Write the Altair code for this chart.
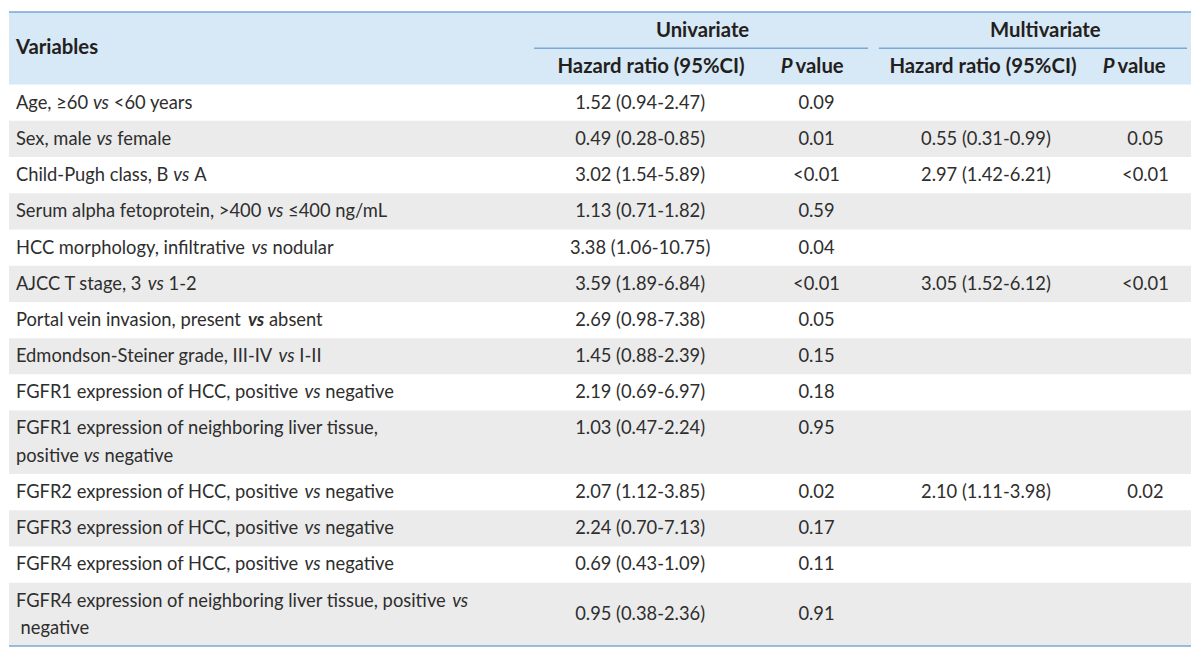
import glob, os, re, struct
import altair as alt
import pandas as pd

# ---------------- data ----------------
variables = [
    "Age, \u226560 _vs_ <60 years",
    "Sex, male _vs_ female",
    "Child-Pugh class, B _vs_ A",
    "Serum alpha fetoprotein, >400 _vs_ \u2264400 ng/mL",
    "HCC morphology, infiltrative _vs_ nodular",
    "AJCC T stage, 3 _vs_ 1-2",
    "Portal vein invasion, present __vs__ absent",
    "Edmondson-Steiner grade, III-IV _vs_ I-II",
    "FGFR1 expression of HCC, positive _vs_ negative",
    "FGFR1 expression of neighboring liver tissue,\npositive _vs_ negative",
    "FGFR2 expression of HCC, positive _vs_ negative",
    "FGFR3 expression of HCC, positive _vs_ negative",
    "FGFR4 expression of HCC, positive _vs_ negative",
    "FGFR4 expression of neighboring liver tissue, positive _vs_\n negative",
]
uni_hr = ["1.52 (0.94-2.47)", "0.49 (0.28-0.85)", "3.02 (1.54-5.89)", "1.13 (0.71-1.82)",
          "3.38 (1.06-10.75)", "3.59 (1.89-6.84)", "2.69 (0.98-7.38)", "1.45 (0.88-2.39)",
          "2.19 (0.69-6.97)", "1.03 (0.47-2.24)", "2.07 (1.12-3.85)", "2.24 (0.70-7.13)",
          "0.69 (0.43-1.09)", "0.95 (0.38-2.36)"]
uni_p = ["0.09", "0.01", "<0.01", "0.59", "0.04", "<0.01", "0.05", "0.15", "0.18", "0.95",
         "0.02", "0.17", "0.11", "0.91"]
multi_hr = ["", "0.55 (0.31-0.99)", "2.97 (1.42-6.21)", "", "", "3.05 (1.52-6.12)", "", "", "",
            "", "2.10 (1.11-3.98)", "", "", ""]
multi_p = ["", "0.05", "<0.01", "", "", "<0.01", "", "", "", "", "0.02", "", "", ""]
value_on_first_line = [False] * 9 + [True] + [False] * 4

group_headers = ["Univariate", "Multivariate"]
sub_headers = ["Hazard ratio (95%CI)", "Hazard ratio (95%CI)"]
first_header = "Variables"

# ---------------- layout / style ----------------
FONT = "Lato"
FS = 18.5
FS_HEAD = 20.5
TOP, HEAD_BOTTOM, BOTTOM = 7, 81, 653
LEFT, RIGHT = 3, 1196
SINGLE_H, DOUBLE_H, LINE_GAP = 36.9, 64.6, 28
TEXT_X = 10
COL_UNI_HR, COL_UNI_P, COL_MUL_HR, COL_MUL_P = 640, 818, 989, 1150
HDR_UNI_HR, HDR_MUL_HR = 651, 986
GROUP_LINES = [(533, 870), (881, 1192)]
GROUP_CENTERS = [703, 1049]
P_HDR_X = [782, 1107]
HEADER_BG, STRIPE, LINE, TEXT_DARK, TEXT_BODY = "#d7e8f6", "#ebebeb", "#7aa7d5", "#231f20", "#2e2e2e"
W, H = 1184, 640
X0 = 8


# ---------------- text measurement ----------------
def load_font(path):
    data = open(path, 'rb').read()
    num = struct.unpack('>H', data[4:6])[0]
    tables = {}
    for i in range(num):
        tag, cs, off, ln = struct.unpack('>4sIII', data[12 + 16 * i:28 + 16 * i])
        tables[tag.decode('latin1')] = (off, ln)
    upem = struct.unpack('>H', data[tables['head'][0] + 18:tables['head'][0] + 20])[0]
    nhm = struct.unpack('>H', data[tables['hhea'][0] + 34:tables['hhea'][0] + 36])[0]
    ho = tables['hmtx'][0]
    adv = [struct.unpack('>H', data[ho + 4 * i:ho + 4 * i + 2])[0] for i in range(nhm)]
    co = tables['cmap'][0]
    n = struct.unpack('>H', data[co + 2:co + 4])[0]
    cmap = {}
    for i in range(n):
        pid, eid, off = struct.unpack('>HHI', data[co + 4 + 8 * i:co + 12 + 8 * i])
        st = co + off
        fmt = struct.unpack('>H', data[st:st + 2])[0]
        if fmt == 4 and not cmap:
            seg = struct.unpack('>H', data[st + 6:st + 8])[0] // 2
            e0 = st + 14
            ends = struct.unpack('>%dH' % seg, data[e0:e0 + 2 * seg])
            s0 = e0 + 2 * seg + 2
            starts = struct.unpack('>%dH' % seg, data[s0:s0 + 2 * seg])
            d0 = s0 + 2 * seg
            deltas = struct.unpack('>%dh' % seg, data[d0:d0 + 2 * seg])
            r0 = d0 + 2 * seg
            ros = struct.unpack('>%dH' % seg, data[r0:r0 + 2 * seg])
            for k in range(seg):
                for c in range(starts[k], min(ends[k], 0x2300) + 1):
                    if ros[k] == 0:
                        g = (c + deltas[k]) & 0xFFFF
                    else:
                        a = r0 + 2 * k + ros[k] + 2 * (c - starts[k])
                        g = struct.unpack('>H', data[a:a + 2])[0]
                        if g:
                            g = (g + deltas[k]) & 0xFFFF
                    cmap[c] = g
    return upem, adv, cmap


FONT_FILES = {"normal": "Lato-Regular.ttf", "italic": "Lato-Italic.ttf",
              "bold": "Lato-Bold.ttf", "bolditalic": "Lato-BoldItalic.ttf"}
ALL_TTF = glob.glob('/usr/share/fonts/**/Lato-*.ttf', recursive=True)
FONTS = {}
for st, name in FONT_FILES.items():
    FONTS[st] = None
    for p in ALL_TTF:
        if os.path.basename(p) == name:
            try:
                FONTS[st] = load_font(p)
            except Exception:
                FONTS[st] = None
            break


def text_width(s, st="normal", size=FS):
    f = FONTS.get(st) or FONTS.get("normal")
    if f is None:
        return 0.5 * size * len(s)
    upem, adv, cmap = f
    return sum(adv[min(cmap.get(ord(ch), 0), len(adv) - 1)] for ch in s) * size / upem


# ---------------- build tables ----------------
rects, rules, texts = [], [], []
rects.append(dict(x=LEFT, x2=RIGHT, y=TOP, y2=HEAD_BOTTOM, c=HEADER_BG))
rules.append(dict(x=LEFT, x2=RIGHT, y=TOP))
rules.append(dict(x=LEFT, x2=RIGHT, y=BOTTOM))
for (a, b) in GROUP_LINES:
    rules.append(dict(x=a, x2=b, y=44))


def add_text(x, y, t, style, align, color):
    texts.append(dict(x=x, y=y, t=t, style=style, align=align, c=color))


add_text(TEXT_X, 44, first_header, "bold", "left", TEXT_DARK)
for g, cx in zip(group_headers, GROUP_CENTERS):
    add_text(cx, 26, g, "bold", "center", TEXT_DARK)
for s, cx in zip(sub_headers, [HDR_UNI_HR, HDR_MUL_HR]):
    add_text(cx, 63, s, "bold", "center", TEXT_DARK)
for px in P_HDR_X:
    add_text(px, 63, "P", "bolditalic", "left", TEXT_DARK)
    add_text(px + text_width("P", "bolditalic", FS_HEAD) + 3, 63, "value", "bold", "left", TEXT_DARK)

y = HEAD_BOTTOM
for i, label in enumerate(variables):
    lines = label.split("\n")
    h = SINGLE_H if len(lines) == 1 else DOUBLE_H
    if i % 2 == 1:
        rects.append(dict(x=LEFT, x2=RIGHT, y=y, y2=y + h, c=STRIPE))
    mid = y + h / 2
    first = mid - LINE_GAP / 2 * (len(lines) - 1)
    for li, line in enumerate(lines):
        ly = first + li * LINE_GAP
        x = TEXT_X
        for seg in re.split(r'(__.+?__|_.+?_)', line):
            if not seg:
                continue
            if seg.startswith("__"):
                t, st = seg[2:-2], "bolditalic"
            elif seg.startswith("_"):
                t, st = seg[1:-1], "italic"
            else:
                t, st = seg, "normal"
            lead = len(t) - len(t.lstrip(" "))
            core = t.strip(" ")
            if core:
                add_text(x + text_width(" " * lead, st), ly, core, "b" + st, "left", TEXT_BODY)
            x += text_width(t, st)
    vy = first if value_on_first_line[i] else mid
    for val, cx in ((uni_hr[i], COL_UNI_HR), (uni_p[i], COL_UNI_P),
                    (multi_hr[i], COL_MUL_HR), (multi_p[i], COL_MUL_P)):
        if val:
            add_text(cx, vy, val, "bnormal", "center", TEXT_BODY)
    y += h

rect_df = pd.DataFrame(rects)
rule_df = pd.DataFrame(rules)
text_df = pd.DataFrame(texts)

xs = alt.Scale(domain=[X0, X0 + W], nice=False, zero=False)
ys = alt.Scale(domain=[TOP, BOTTOM], nice=False, zero=False, reverse=True)

rect_layer = alt.Chart(rect_df).mark_rect().encode(
    x=alt.X("x:Q", scale=xs, axis=None), x2="x2:Q",
    y=alt.Y("y:Q", scale=ys, axis=None), y2="y2:Q",
    color=alt.Color("c:N", scale=None))

rule_layer = alt.Chart(rule_df).mark_rule(color=LINE, strokeWidth=1.6).encode(
    x=alt.X("x:Q", scale=xs, axis=None), x2="x2:Q",
    y=alt.Y("y:Q", scale=ys, axis=None))

# header styles (larger) and body styles (prefixed "b")
styles = {
    "bold": dict(fontWeight="bold", fontStyle="normal", fontSize=FS_HEAD),
    "bolditalic": dict(fontWeight="bold", fontStyle="italic", fontSize=FS_HEAD),
    "bnormal": dict(fontWeight="normal", fontStyle="normal", fontSize=FS),
    "bitalic": dict(fontWeight="normal", fontStyle="italic", fontSize=FS),
    "bbolditalic": dict(fontWeight="bold", fontStyle="italic", fontSize=FS),
}
text_layers = []
for st, kw in styles.items():
    for al in ("left", "center"):
        sub = text_df[(text_df["style"] == st) & (text_df["align"] == al)]
        if len(sub) == 0:
            continue
        text_layers.append(
            alt.Chart(sub).mark_text(font=FONT, align=al, baseline="middle", **kw).encode(
                x=alt.X("x:Q", scale=xs, axis=None),
                y=alt.Y("y:Q", scale=ys, axis=None),
                text="t:N",
                color=alt.Color("c:N", scale=None)))

chart = alt.layer(rect_layer, rule_layer, *text_layers).properties(
    width=W, height=H, padding=0
).configure_view(stroke=None)

chart.save("out.html", embed_options={"renderer": "svg", "actions": False})
